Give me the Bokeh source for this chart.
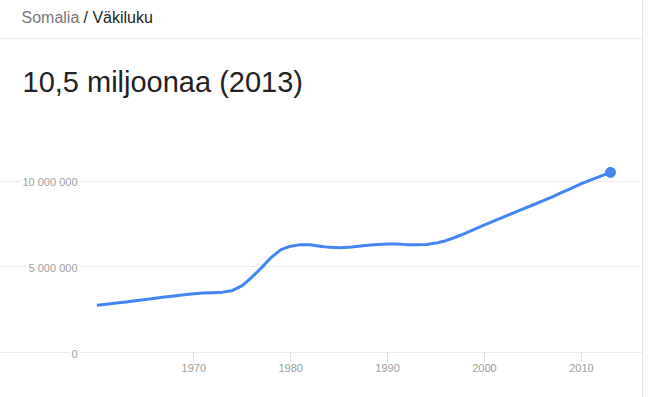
from bokeh.plotting import figure
from bokeh.models import FixedTicker, Label, Span, Range1d
from bokeh.embed import file_html
from bokeh.resources import INLINE

# ---- data ----
years = list(range(1960, 2014))
population = [
    2.76e6, 2.82e6, 2.88e6, 2.95e6, 3.02e6, 3.09e6, 3.16e6, 3.23e6, 3.30e6, 3.37e6,
    3.43e6, 3.47e6, 3.49e6, 3.52e6, 3.62e6, 3.90e6, 4.40e6, 4.95e6, 5.55e6, 6.00e6,
    6.20e6, 6.29e6, 6.28e6, 6.20e6, 6.13e6, 6.11e6, 6.13e6, 6.19e6, 6.25e6, 6.30e6,
    6.33e6, 6.32e6, 6.29e6, 6.28e6, 6.30e6, 6.38e6, 6.52e6, 6.72e6, 6.95e6, 7.20e6,
    7.44e6, 7.68e6, 7.91e6, 8.14e6, 8.37e6, 8.60e6, 8.84e6, 9.08e6, 9.33e6, 9.59e6,
    9.85e6, 10.07e6, 10.29e6, 10.50e6,
]
x_ticks = [1970, 1980, 1990, 2000, 2010]
y_ticks = [0, 5_000_000, 10_000_000]
y_tick_labels = ["0", "5 000 000", "10 000 000"]
breadcrumb_country = "Somalia"
breadcrumb_rest = "/ Väkiluku"
headline = "10,5 miljoonaa (2013)"

# ---- geometry ----
W, H = 643, 397
BOTTOM = 36
FRAME_W = W - 1
FRAME_H = H - BOTTOM          # frame bottom at pixel 361
ZERO_PX = 352                 # pixel row of the zero gridline
KX = 9.69                     # px per year
KY = 17.15e-6                 # px per person
x_start = 1960 - 96.4 / KX
x_end = x_start + FRAME_W / KX
y_start = -(FRAME_H - ZERO_PX) / KY
y_end = y_start + FRAME_H / KY


def px_x(px):
    return x_start + px / KX


def px_y(py):
    return y_start + (FRAME_H - py) / KY


BLUE = "#4285f4"
GRID = "#ebebeb"
TICKTXT = "#9e9e9e"
FONT = "Liberation Sans"

p = figure(width=W, height=H, output_backend="svg", toolbar_location=None,
           x_range=Range1d(x_start, x_end), y_range=Range1d(y_start, y_end),
           y_axis_location=None, min_border_left=0, min_border_right=1,
           min_border_top=0, min_border_bottom=BOTTOM)
p.outline_line_color = None
p.background_fill_color = "white"
p.border_fill_color = "white"
p.styles = {"border-right": "1px solid #e4e4e4"}

p.xgrid.visible = False
p.ygrid.ticker = FixedTicker(ticks=y_ticks)
p.ygrid.grid_line_color = GRID
p.ygrid.grid_line_width = 1

ax = p.xaxis[0]
ax.ticker = FixedTicker(ticks=x_ticks)
ax.axis_line_color = None
ax.major_tick_line_color = "#e0e0e0"
ax.major_tick_in = FRAME_H - ZERO_PX
ax.major_tick_out = 0
ax.minor_tick_line_color = None
ax.major_label_text_font = FONT
ax.major_label_text_font_size = "11px"
ax.major_label_text_color = TICKTXT
ax.major_label_standoff = 2

# header separator
p.add_layout(Span(location=px_y(38), dimension="width", line_color=GRID, line_width=1))

# y tick labels
for v, t in zip(y_ticks, y_tick_labels):
    p.add_layout(Label(x=px_x(79), y=v, text=t, text_align="right", text_baseline="middle",
                       y_offset=-1, text_font=FONT, text_font_size="11px",
                       text_color=TICKTXT, background_fill_color="white", padding=2))

# header texts (anchored at their visual middle)
p.add_layout(Label(x=px_x(21), y=px_y(17), text=breadcrumb_country, text_font=FONT,
                   text_font_size="16px", text_color="#777777", text_baseline="middle"))
p.add_layout(Label(x=px_x(83), y=px_y(17), text=breadcrumb_rest, text_font=FONT,
                   text_font_size="16px", text_color="#222222", text_baseline="middle"))
p.add_layout(Label(x=px_x(22), y=px_y(81), text=headline, text_font=FONT,
                   text_font_size="29px", text_color="#222222", text_baseline="middle"))

p.line(years, population, line_color=BLUE, line_width=3, line_join="round")
p.scatter([years[-1]], [population[-1]], size=10, color=BLUE)

open("out.html", "w").write(file_html(p, INLINE))
